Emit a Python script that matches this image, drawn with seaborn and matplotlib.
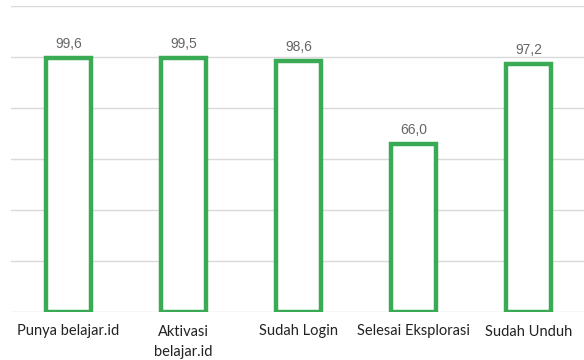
import matplotlib
matplotlib.use("Agg")
import matplotlib.pyplot as plt
import seaborn as sns
import pandas as pd

categories = ["Punya belajar.id", "Aktivasi\nbelajar.id", "Sudah Login",
              "Selesai Eksplorasi", "Sudah Unduh"]
values = [99.6, 99.5, 98.6, 66.0, 97.2]
value_labels = ["99,6", "99,5", "98,6", "66,0", "97,2"]

green = "#3aaa55"
grid_gray = "#d9d9d9"

sns.set_theme(style="white")
plt.rcParams["font.family"] = ["Liberation Sans", "DejaVu Sans"]

df = pd.DataFrame({"cat": categories, "val": values})

fig = plt.figure(figsize=(5.84, 3.6), dpi=100)
ax = fig.add_axes([11 / 584, 48 / 360, 575 / 584, 306 / 360])

sns.barplot(data=df, x="cat", y="val", ax=ax, color="white",
            edgecolor=green, linewidth=3.2, width=0.39, saturation=1)

ax.set_ylim(0, 120)
ax.set_xlim(-0.5, len(categories) - 0.5)
ax.set_yticks(range(0, 121, 20))
ax.yaxis.grid(True, color=grid_gray, linewidth=1.0)
ax.set_axisbelow(True)
ax.tick_params(axis="y", left=False, labelleft=False)
ax.tick_params(axis="x", bottom=False, pad=3)
for s in ax.spines.values():
    s.set_visible(False)
ax.set_xlabel("")
ax.set_ylabel("")
ax.set_xticks(range(len(categories)))
ax.set_xticklabels(categories, fontsize=10.5, color="#222222",
                   family=["Lato", "DejaVu Sans"], linespacing=1.6)

for i, (v, lab) in enumerate(zip(values, value_labels)):
    ax.annotate(lab, (i, v), xytext=(0, 5), textcoords="offset points",
                ha="center", va="bottom", fontsize=10, color="#666666")

fig.savefig("out.png", dpi=100)
